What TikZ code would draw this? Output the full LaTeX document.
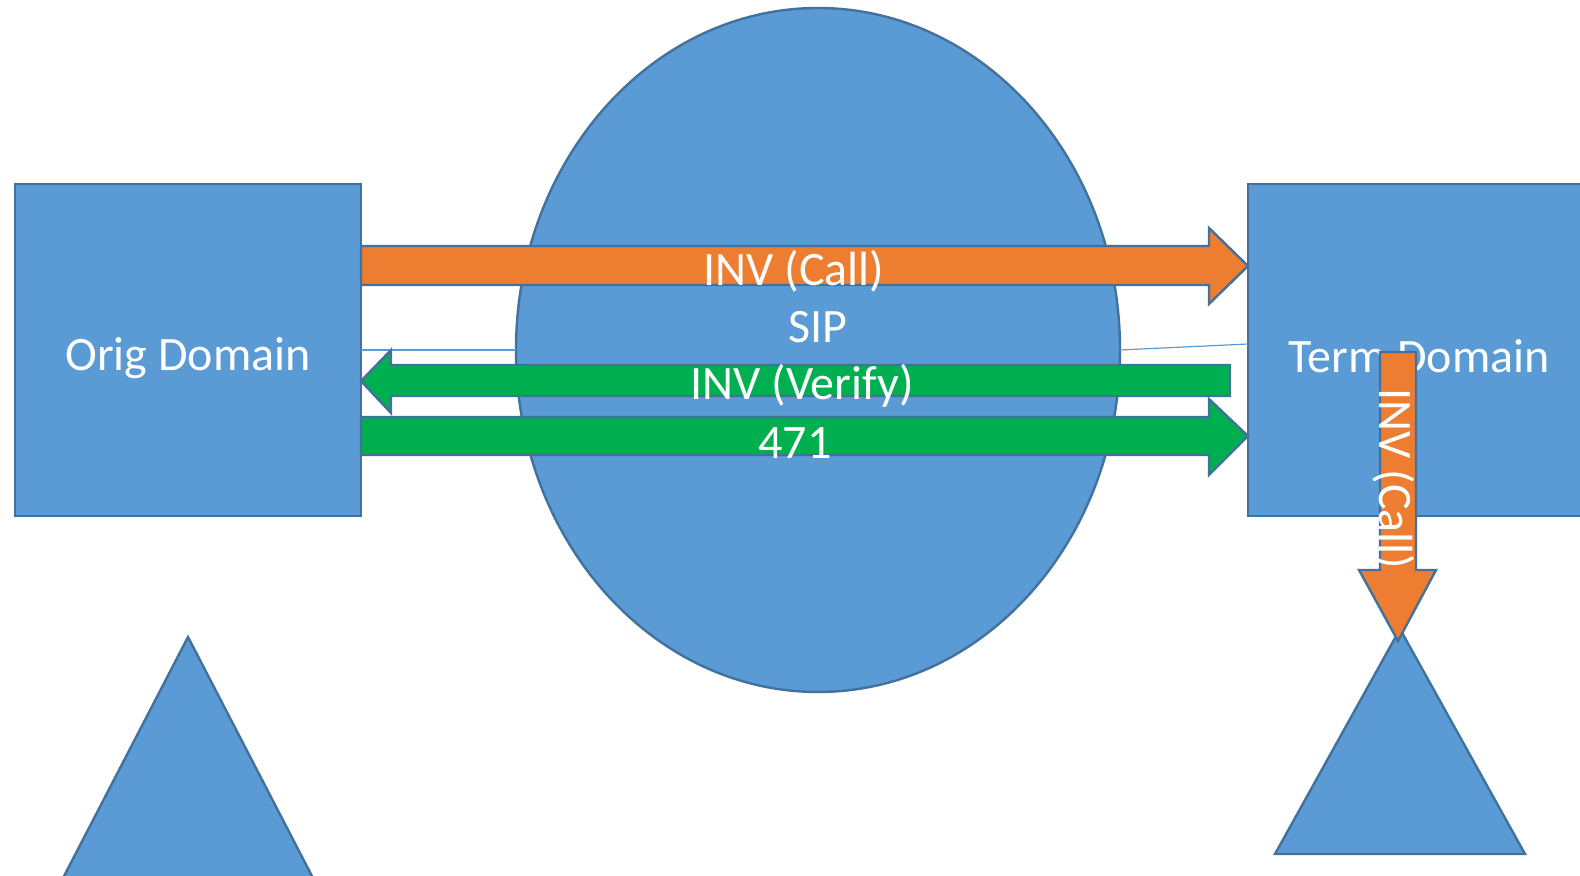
\documentclass[tikz,border=0pt]{standalone}
\usepackage{fontspec}
\setmainfont{Carlito}
\usetikzlibrary{shapes.geometric}
\definecolor{fillblue}{HTML}{5B9BD5}
\definecolor{edgeblue}{HTML}{41719C}
\definecolor{callorange}{HTML}{ED7D31}
\definecolor{okgreen}{HTML}{00B050}
\tikzset{
  shapebox/.style={fill=fillblue,draw=edgeblue,line width=1.2pt},
  blockarrow/.style={draw=edgeblue,line width=1.2pt,line join=miter},
  label/.style={text=white,font=\fontsize{24}{28}\selectfont,inner sep=0pt},
  thinline/.style={draw=fillblue,line width=0.6pt}
}
\begin{document}
\begin{tikzpicture}[x=0.5pt,y=-0.5pt]
\useasboundingbox (0,0) rectangle (1580,876);
% ellipse (SIP cloud)
\node[shapebox,ellipse,minimum width=604*0.5pt,minimum height=684*0.5pt,inner sep=0pt] (sip) at (818,350) {};
% domains
\draw[shapebox] (15,184) rectangle (361,516);
\node[inner sep=0pt] (orig) at (188,350) {};
\draw[shapebox] (1248,184) rectangle (1600,516);
\node[inner sep=0pt] (term) at (1420,350) {};
% triangles
\draw[shapebox] (188,637) -- (314,880) -- (62,880) -- cycle;
\draw[shapebox] (1400,629) -- (1525,854) -- (1275,854) -- cycle;
\coordinate (origtri) at (188,637);
\coordinate (termtri) at (1398,641);
% thin connector lines
\coordinate (oL) at (361,350);
\coordinate (sL) at (516,350);
\coordinate (sR) at (1120,350);
\coordinate (tL) at (1248,344);
\draw[thinline] (oL) -- (sL);
\draw[thinline] (sR) -- (tL);
% labels
\node[label] (origlabel) at (188,358) {Orig Domain};
\node[label] (siplabel) at (818,327) {SIP};
\node[label] (termlabel) at (1419,356) {Term Domain};
% orange INV (Call) arrow
\draw[blockarrow,fill=callorange] (361,246) -- (1209,246) -- (1209,228) -- (1248,266) -- (1209,304) -- (1209,285) -- (361,285) -- cycle;
% green INV (Verify) arrow (leftwards)
\draw[blockarrow,fill=okgreen] (1230,365) -- (391,365) -- (391,350) -- (361,381) -- (391,413) -- (391,396) -- (1230,396) -- cycle;
% green 471 arrow
\draw[blockarrow,fill=okgreen] (361,417) -- (1209,417) -- (1209,399) -- (1248,436) -- (1209,475) -- (1209,455) -- (361,455) -- cycle;
% orange vertical arrow
\draw[blockarrow,fill=callorange] (1380,352) -- (1416,352) -- (1416,570) -- (1436,570) -- (1398,641) -- (1359,570) -- (1380,570) -- cycle;
% arrow labels
\node[label] (callLabel) at (794,271) {INV (Call)};
\node[label] (verifyLabel) at (802,386) {INV (Verify)};
\node[label] (rcLabel) at (795,443) {471};
\node[label,rotate=-90] (downLabel) at (1394,479) {INV (Call)};
\end{tikzpicture}
\end{document}
